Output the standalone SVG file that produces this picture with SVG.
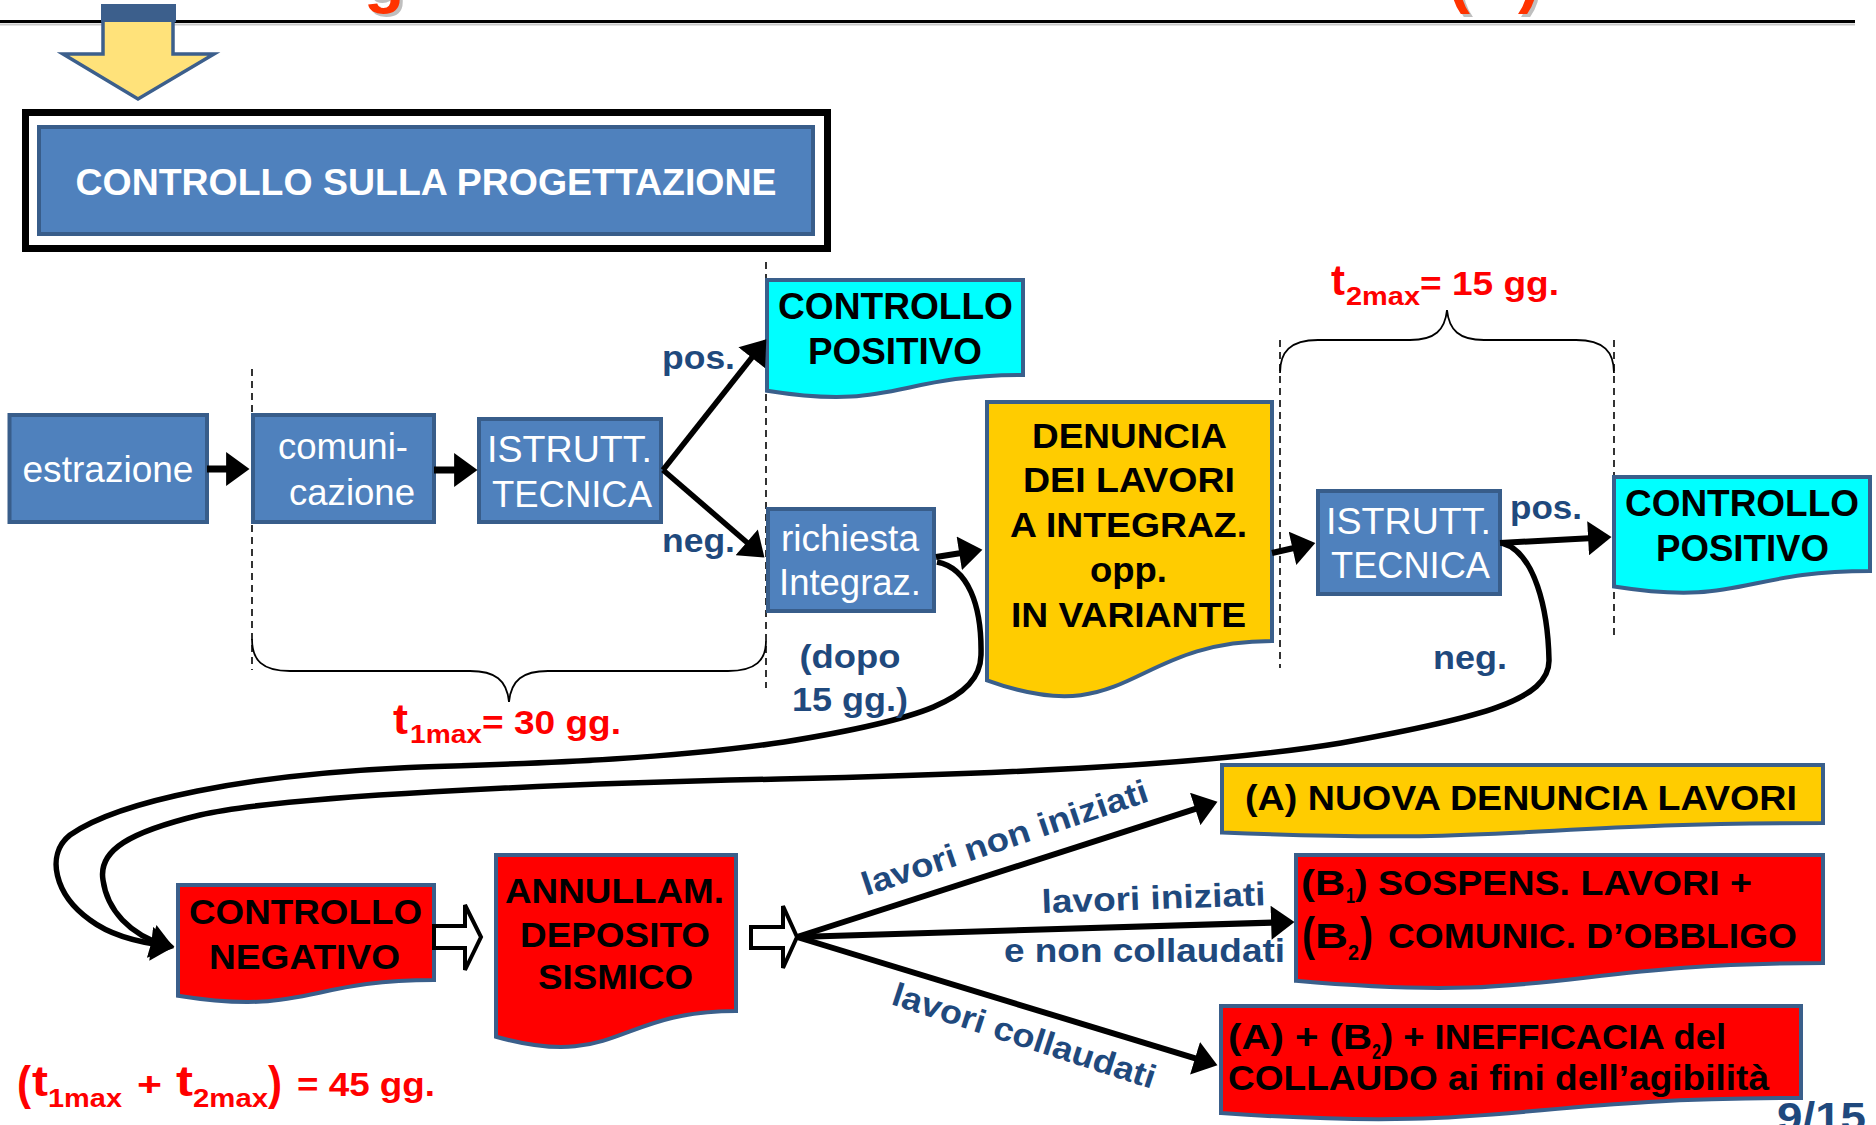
<svg xmlns="http://www.w3.org/2000/svg" width="1876" height="1125" viewBox="0 0 1876 1125">
<defs>
<style>
text{font-family:"Liberation Sans",Arial,sans-serif;}
.box{fill:#4f81bd;stroke:#385d8a;stroke-width:4;}
.doc{stroke:#3a5f8b;stroke-width:4;}
.cy{fill:#00ffff;}
.ye{fill:#ffcc00;}
.re{fill:#ff0000;}
.wt{fill:#ffffff;font-size:36px;text-anchor:middle;}
.bk{fill:#000000;font-size:35px;font-weight:bold;}
.bkm{fill:#000000;font-size:35px;font-weight:bold;text-anchor:middle;}
.db{fill:#1f497d;font-size:34px;font-weight:bold;}
.dbm{fill:#1f497d;font-size:34px;font-weight:bold;text-anchor:middle;}
.rd{fill:#ff0000;font-weight:bold;}
.ln{stroke:#000;stroke-width:6;fill:none;marker-end:url(#ah);}
.cv{stroke:#000;stroke-width:5.5;fill:none;marker-end:url(#ah);}
.dash{stroke:#000;stroke-width:1.6;stroke-dasharray:7 5;fill:none;}
.brace{stroke:#000;stroke-width:1.8;fill:none;}
.hol{fill:#fff;stroke:#000;stroke-width:4;stroke-linejoin:miter;}
</style>
<marker id="ah" markerUnits="userSpaceOnUse" markerWidth="24" markerHeight="34" viewBox="0 0 22 32" refX="14" refY="16" orient="auto">
<path d="M0,0 L22,16 L0,32 Z" fill="#000"/>
</marker>
</defs>
<rect width="1876" height="1125" fill="#ffffff"/>

<g id="title-fragments">
<text x="367" y="3" style="font-size:66px;font-weight:bold;fill:#bfbfbf">g</text>
<text x="364" y="0" style="font-size:66px;font-weight:bold;fill:#ff3300">g</text>
<text x="1451" y="3" style="font-size:66px;font-weight:bold;fill:#bfbfbf">(</text>
<text x="1448" y="0" style="font-size:66px;font-weight:bold;fill:#ff3300">(</text>
<text x="1521" y="3" style="font-size:66px;font-weight:bold;fill:#bfbfbf">)</text>
<text x="1518" y="0" style="font-size:66px;font-weight:bold;fill:#ff3300">)</text>
</g>

<g id="header-line">
<line x1="0" y1="24.5" x2="1855" y2="24.5" stroke="#c8c8c8" stroke-width="2"/>
<line x1="0" y1="21.5" x2="1855" y2="21.5" stroke="#000" stroke-width="3"/>
</g>

<g id="down-arrow">
<polygon points="103,20 173,20 173,54 214,54 138,99 63,54 103,54" fill="#ffe27a" stroke="#3c5f8c" stroke-width="3.5" stroke-linejoin="miter"/>
<rect x="101" y="4" width="75" height="18" fill="#3c5f8c"/>
</g>

<g id="n-header">
<rect x="25.5" y="112.5" width="802" height="136" fill="#fff" stroke="#000" stroke-width="7"/>
<rect x="39" y="127" width="774" height="107" class="box"/>
<text x="426" y="195" class="wt" style="font-weight:bold;font-size:37px" textLength="701" lengthAdjust="spacingAndGlyphs">CONTROLLO SULLA PROGETTAZIONE</text>
</g>

<g id="dashes-braces">
<line x1="252" y1="369" x2="252" y2="670" class="dash"/>
<line x1="766" y1="262" x2="766" y2="688" class="dash"/>
<line x1="1280" y1="340" x2="1280" y2="668" class="dash"/>
<line x1="1614" y1="340" x2="1614" y2="640" class="dash"/>
<path class="brace" d="M252,639 C252,660 262,671 290,671 H470 C495,671 507,680 509,702 C511,680 523,671 548,671 H728 C756,671 766,660 766,641"/>
<path class="brace" d="M1280,373 C1280,352 1290,340 1318,340 H1410 C1435,340 1445,330 1447,310 C1449,330 1459,340 1484,340 H1576 C1604,340 1614,352 1614,373"/>
</g>

<g id="n-estrazione">
<rect x="9.5" y="415" width="197.5" height="107" class="box"/>
<text x="108" y="482" class="wt" textLength="171" lengthAdjust="spacingAndGlyphs">estrazione</text>
</g>
<g id="n-comunicazione">
<rect x="253" y="415" width="181" height="107" class="box"/>
<text x="343" y="459" class="wt" textLength="130" lengthAdjust="spacingAndGlyphs">comuni-</text>
<text x="352" y="505" class="wt" textLength="126" lengthAdjust="spacingAndGlyphs">cazione</text>
</g>
<g id="n-istrutt1">
<rect x="479" y="419" width="182" height="103" class="box"/>
<text x="569.5" y="462" class="wt" textLength="165" lengthAdjust="spacingAndGlyphs">ISTRUTT.</text>
<text x="572" y="507" class="wt" textLength="160" lengthAdjust="spacingAndGlyphs">TECNICA</text>
</g>
<g id="n-positivo1">
<path class="doc cy" d="M767,280 H1023 V375 C895,375 895,411.2 767,390.7 Z"/>
<text x="895.5" y="319" class="bkm" style="font-size:36px" textLength="235" lengthAdjust="spacingAndGlyphs">CONTROLLO</text>
<text x="895" y="364" class="bkm" style="font-size:36px" textLength="174" lengthAdjust="spacingAndGlyphs">POSITIVO</text>
</g>
<g id="n-richiesta">
<rect x="768" y="509" width="166" height="102" class="box"/>
<text x="850" y="551" class="wt" textLength="138" lengthAdjust="spacingAndGlyphs">richiesta</text>
<text x="850" y="595" class="wt" textLength="142" lengthAdjust="spacingAndGlyphs">Integraz.</text>
</g>
<g id="n-denuncia">
<path class="doc ye" d="M987,402 H1272 V641 C1129.5,641 1129.5,732 987,680.3 Z"/>
<text x="1129.5" y="448" class="bkm" textLength="195" lengthAdjust="spacingAndGlyphs">DENUNCIA</text>
<text x="1129" y="492" class="bkm" textLength="212" lengthAdjust="spacingAndGlyphs">DEI LAVORI</text>
<text x="1128.5" y="537" class="bkm" textLength="237" lengthAdjust="spacingAndGlyphs">A INTEGRAZ.</text>
<text x="1128.5" y="582" class="bkm" textLength="77" lengthAdjust="spacingAndGlyphs">opp.</text>
<text x="1128.5" y="627" class="bkm" textLength="235" lengthAdjust="spacingAndGlyphs">IN VARIANTE</text>
</g>
<g id="n-istrutt2">
<rect x="1318" y="491" width="182" height="103" class="box"/>
<text x="1408.5" y="534" class="wt" textLength="165" lengthAdjust="spacingAndGlyphs">ISTRUTT.</text>
<text x="1410.5" y="578" class="wt" textLength="159" lengthAdjust="spacingAndGlyphs">TECNICA</text>
</g>
<g id="n-positivo2">
<path class="doc cy" d="M1614,477 H1870 V571 C1742,571 1742,606.8 1614,586.5 Z"/>
<text x="1742" y="516" class="bkm" style="font-size:36px" textLength="234" lengthAdjust="spacingAndGlyphs">CONTROLLO</text>
<text x="1742.5" y="561" class="bkm" style="font-size:36px" textLength="173" lengthAdjust="spacingAndGlyphs">POSITIVO</text>
</g>
<g id="n-negativo">
<path class="doc re" d="M178,885 H434 V980 C306,980 306,1016.2 178,995.7 Z"/>
<text x="305.5" y="924" class="bkm" textLength="233" lengthAdjust="spacingAndGlyphs">CONTROLLO</text>
<text x="304.5" y="969" class="bkm" textLength="191" lengthAdjust="spacingAndGlyphs">NEGATIVO</text>
</g>
<g id="n-annullam">
<path class="doc re" d="M496,855 H736 V1011 C616,1011 616,1070.4 496,1036.7 Z"/>
<text x="614.5" y="903" class="bkm" textLength="219" lengthAdjust="spacingAndGlyphs">ANNULLAM.</text>
<text x="615" y="947" class="bkm" textLength="190" lengthAdjust="spacingAndGlyphs">DEPOSITO</text>
<text x="615.5" y="989" class="bkm" textLength="155" lengthAdjust="spacingAndGlyphs">SISMICO</text>
</g>
<g id="n-nuova">
<path class="doc ye" d="M1222,765 H1823 V823 C1522.5,823 1522.5,845.1 1222,832.5 Z"/>
<text x="1521" y="810" class="bkm" textLength="552" lengthAdjust="spacingAndGlyphs">(A) NUOVA DENUNCIA LAVORI</text>
</g>
<g id="n-sospens">
<path class="doc re" d="M1296,855 H1823 V963 C1559.5,963 1559.5,1004.2 1296,980.8 Z"/>
<text x="1301" y="895" class="bk" textLength="44" lengthAdjust="spacingAndGlyphs">(B</text>
<text x="1346" y="903" class="bk" style="font-size:22px" textLength="9" lengthAdjust="spacingAndGlyphs">1</text>
<text x="1355" y="895" class="bk" textLength="397" lengthAdjust="spacingAndGlyphs">) SOSPENS. LAVORI +</text>
<text x="1302" y="950" class="bk" style="font-size:46px" textLength="13" lengthAdjust="spacingAndGlyphs">(</text>
<text x="1315" y="948" class="bk" textLength="33" lengthAdjust="spacingAndGlyphs">B</text>
<text x="1348" y="960" class="bk" style="font-size:22px" textLength="11" lengthAdjust="spacingAndGlyphs">2</text>
<text x="1360" y="950" class="bk" style="font-size:46px" textLength="13" lengthAdjust="spacingAndGlyphs">)</text>
<text x="1388" y="948" class="bk" textLength="409" lengthAdjust="spacingAndGlyphs">COMUNIC. D’OBBLIGO</text>
</g>
<g id="n-inefficacia">
<path class="doc re" d="M1221,1006 H1801 V1098 C1511,1098 1511,1133 1221,1113.1 Z"/>
<text x="1228" y="1049" class="bk" textLength="144" lengthAdjust="spacingAndGlyphs">(A) + (B</text>
<text x="1372" y="1059" class="bk" style="font-size:22px" textLength="9" lengthAdjust="spacingAndGlyphs">2</text>
<text x="1381" y="1049" class="bk" textLength="345" lengthAdjust="spacingAndGlyphs">) + INEFFICACIA del</text>
<text x="1228" y="1090" class="bk" textLength="541" lengthAdjust="spacingAndGlyphs">COLLAUDO ai fini dell’agibilità</text>
</g>

<g id="connectors">
<line x1="207" y1="469" x2="241" y2="469" class="ln" style="stroke-width:7"/>
<line x1="434" y1="470" x2="469" y2="470" class="ln" style="stroke-width:7"/>
<line x1="663" y1="470" x2="761" y2="346" class="ln" style="stroke-width:5.5"/>
<line x1="663" y1="470" x2="758" y2="552" class="ln" style="stroke-width:5.5"/>
<line x1="936" y1="557" x2="974" y2="551" class="ln"/>
<line x1="1272" y1="553" x2="1307" y2="545" class="ln"/>
<line x1="1500" y1="543" x2="1603" y2="537.5" class="ln"/>
<path class="cv" d="M937,562 C968,568 982,605 981,655 C980,700 920,720 784,742 C650,762 500,764 400,768 C250,775 120,800 70,835 C45,855 55,895 90,920 C110,935 135,942 166,945.5"/>
<path class="cv" d="M1502,543 C1535,552 1548,610 1549,660 C1550,700 1480,718 1341,743 C1250,758 1100,772 780,779 C550,784 280,796 200,815 C130,832 98,850 103,880 C107,910 130,935 166,945.5"/>
<polygon class="hol" points="434,926 465,926 465,905 481,937 465,970 465,948 434,948"/>
<polygon class="hol" points="751,927 783,927 783,906 797,937 783,968 783,948 751,948"/>
<line x1="797" y1="937" x2="1209.4" y2="804.4" class="ln"/>
<line x1="797" y1="937" x2="1286" y2="922.2" class="ln"/>
<line x1="797" y1="937" x2="1209.3" y2="1062.7" class="ln"/>
</g>

<g id="labels">
<text x="662" y="369" class="db" textLength="73" lengthAdjust="spacingAndGlyphs">pos.</text>
<text x="662" y="552" class="db" textLength="73" lengthAdjust="spacingAndGlyphs">neg.</text>
<text x="850" y="668" class="dbm" textLength="101" lengthAdjust="spacingAndGlyphs">(dopo</text>
<text x="850" y="711" class="dbm" textLength="116" lengthAdjust="spacingAndGlyphs">15 gg.)</text>
<text x="1510" y="519" class="db" textLength="72" lengthAdjust="spacingAndGlyphs">pos.</text>
<text x="1433" y="669" class="db" textLength="74" lengthAdjust="spacingAndGlyphs">neg.</text>
<text class="db" style="font-size:33px" transform="translate(866,896) rotate(-18.5)" textLength="300" lengthAdjust="spacingAndGlyphs">lavori non iniziati</text>
<text class="db" style="font-size:33px" transform="translate(1042,913) rotate(-2)" textLength="224" lengthAdjust="spacingAndGlyphs">lavori iniziati</text>
<text x="1004" y="962" class="db" style="font-size:33px" textLength="281" lengthAdjust="spacingAndGlyphs">e non collaudati</text>
<text class="db" style="font-size:33px" transform="translate(890,1004) rotate(18)" textLength="275" lengthAdjust="spacingAndGlyphs">lavori collaudati</text>
<text x="1777" y="1131" class="db" style="font-size:40px" textLength="89" lengthAdjust="spacingAndGlyphs">9/15</text>
</g>

<g id="times">
<text x="1331" y="295" class="rd" style="font-size:42px" textLength="14" lengthAdjust="spacingAndGlyphs">t</text>
<text x="1346" y="305" class="rd" style="font-size:26px" textLength="74" lengthAdjust="spacingAndGlyphs">2max</text>
<text x="1420" y="295" class="rd" style="font-size:34px" textLength="139" lengthAdjust="spacingAndGlyphs">= 15 gg.</text>
<text x="393" y="734" class="rd" style="font-size:42px" textLength="15" lengthAdjust="spacingAndGlyphs">t</text>
<text x="410" y="743" class="rd" style="font-size:26px" textLength="72" lengthAdjust="spacingAndGlyphs">1max</text>
<text x="482" y="734" class="rd" style="font-size:34px" textLength="139" lengthAdjust="spacingAndGlyphs">= 30 gg.</text>
<text x="17" y="1099" class="rd" style="font-size:46px" textLength="14" lengthAdjust="spacingAndGlyphs">(</text>
<text x="32" y="1096" class="rd" style="font-size:42px" textLength="16" lengthAdjust="spacingAndGlyphs">t</text>
<text x="48" y="1107" class="rd" style="font-size:26px" textLength="74" lengthAdjust="spacingAndGlyphs">1max</text>
<text x="137" y="1096" class="rd" style="font-size:34px" textLength="25" lengthAdjust="spacingAndGlyphs">+</text>
<text x="176" y="1096" class="rd" style="font-size:42px" textLength="17" lengthAdjust="spacingAndGlyphs">t</text>
<text x="193" y="1107" class="rd" style="font-size:26px" textLength="75" lengthAdjust="spacingAndGlyphs">2max</text>
<text x="268" y="1099" class="rd" style="font-size:46px" textLength="14" lengthAdjust="spacingAndGlyphs">)</text>
<text x="297" y="1096" class="rd" style="font-size:34px" textLength="138" lengthAdjust="spacingAndGlyphs">= 45 gg.</text>
</g>
</svg>
